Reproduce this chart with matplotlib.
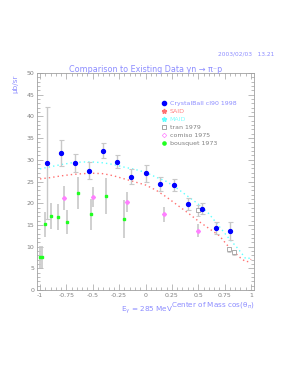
import matplotlib
matplotlib.use("Agg")
import matplotlib.pyplot as plt
from matplotlib.lines import Line2D
from matplotlib.ticker import MultipleLocator

# ---- data ----
cb_x = [-0.933, -0.8, -0.667, -0.533, -0.4, -0.267, -0.133, 0.0, 0.133, 0.267, 0.4, 0.533, 0.667, 0.8]
cb_y = [29.2, 31.5, 29.3, 27.5, 32.1, 29.6, 26.1, 26.9, 24.4, 24.2, 19.8, 18.7, 14.2, 13.6]
cb_err = [12.9, 3.0, 2.1, 1.9, 1.8, 1.6, 1.7, 1.9, 1.6, 1.4, 1.35, 1.25, 1.4, 2.1]

tran_x = [0.5, 0.79, 0.84]
tran_y = [18.4, 9.4, 8.7]
tran_err = [1.3, 0.6, 0.6]

comiso_x = [-0.77, -0.5, -0.175, 0.175, 0.5]
comiso_y = [21.2, 21.4, 20.2, 17.4, 13.7]
comiso_err = [2.8, 2.3, 2.3, 1.65, 1.55]

bous_x = [-0.995, -0.977, -0.949, -0.90, -0.826, -0.74, -0.643, -0.517, -0.377, -0.207]
bous_y = [7.6, 7.6, 15.1, 17.0, 16.9, 15.7, 22.3, 17.4, 21.6, 16.3]
bous_err = [2.5, 2.5, 2.9, 3.0, 3.0, 2.7, 3.7, 3.5, 4.2, 4.4]

curve_x = [-1.0, -0.9, -0.8, -0.7, -0.6, -0.5, -0.4, -0.3, -0.2, -0.1, 0.0, 0.1, 0.2,
           0.3, 0.4, 0.5, 0.6, 0.7, 0.8, 0.86, 0.9, 0.95, 0.98, 1.0]
said_y = [25.6, 25.9, 26.3, 26.6, 26.8, 26.9, 26.8, 26.3, 25.6, 24.9, 24.2, 23.0, 21.4,
          19.6, 17.8, 15.9, 14.2, 12.5, 9.6, 8.3, 7.4, 6.5, 6.6, 7.1]
maid_y = [27.9, 28.4, 28.9, 29.3, 29.5, 29.5, 29.3, 28.9, 28.3, 27.8, 27.1, 26.0, 25.0,
          23.4, 21.6, 19.8, 17.6, 14.6, 11.6, 10.0, 8.8, 7.2, 7.3, 7.8]

legend_labels = ["CrystalBall cl90 1998", "SAID", "MAID", "tran 1979", "comiso 1975", "bousquet 1973"]
xticks = [-1, -0.75, -0.5, -0.25, 0, 0.25, 0.5, 0.75, 1]
xticklabels = ["-1", "-0.75", "-0.5", "-0.25", "0", "0.25", "0.5", "0.75", "1"]
yticks = [0, 5, 10, 15, 20, 25, 30, 35, 40, 45, 50]

# ---- style ----
lav = "#8c8cff"
grey = "#a0a0a0"
ebc = "#c8c8c8"

fig = plt.figure(figsize=(3.0, 3.88), dpi=100)
ax = fig.add_axes([37/300, 98/388, 217/300, 217/388])

ax.plot(curve_x, said_y, color="#ff7070", linestyle=(0, (1, 2.2)), linewidth=1.0, zorder=2)
ax.plot(curve_x, maid_y, color="#60ffff", linestyle=(0, (1, 2.2)), linewidth=1.0, zorder=2)

ax.errorbar(bous_x, bous_y, yerr=bous_err, fmt="s", color="#20ff20", markersize=1.9,
            ecolor=ebc, elinewidth=1.2, capsize=0, zorder=3)
ax.errorbar(comiso_x, comiso_y, yerr=comiso_err, fmt="D", color="#ff80ff", markersize=2.0,
            ecolor=ebc, elinewidth=1.2, capsize=0, zorder=3)
ax.errorbar(tran_x, tran_y, yerr=tran_err, fmt="s", mfc="white", mec="#a0a0a0", markersize=2.5,
            mew=0.6, ecolor=ebc, elinewidth=1.0, capsize=1.5, zorder=3)
ax.errorbar(cb_x, cb_y, yerr=cb_err, fmt="o", color="#0000ff", markersize=2.8,
            ecolor=ebc, elinewidth=1.0, capsize=1.8, capthick=0.8, zorder=4)

ax.set_xlim(-1.028, 1.028)
ax.set_ylim(0, 50)
ax.set_xticks(xticks)
ax.set_xticklabels(xticklabels)
ax.set_yticks(yticks)
ax.xaxis.set_minor_locator(MultipleLocator(0.05))
ax.yaxis.set_minor_locator(MultipleLocator(1))
ax.tick_params(which="both", direction="in", top=True, right=True, colors=grey,
               labelsize=4.5, labelcolor="#808080", width=0.5)
ax.tick_params(which="major", length=4, pad=2)
ax.tick_params(which="minor", length=2)
for s in ax.spines.values():
    s.set_color(grey)
    s.set_linewidth(0.6)

handles = [
    Line2D([], [], marker="o", color="#0000ff", linestyle="none", markersize=3.0),
    Line2D([], [], marker="*", color="#ff7070", linestyle="none", markersize=3.5),
    Line2D([], [], marker="*", color="#60ffff", linestyle="none", markersize=3.5),
    Line2D([], [], marker="s", mfc="white", mec="#808080", linestyle="none", markersize=2.8, mew=0.5),
    Line2D([], [], marker="D", mfc="white", mec="#ff80ff", linestyle="none", markersize=2.3, mew=0.5),
    Line2D([], [], marker="o", color="#20ff20", linestyle="none", markersize=2.3),
]
leg = ax.legend(handles, legend_labels, loc="upper left", bbox_to_anchor=(0.571, 0.872),
                frameon=False, fontsize=4.5, handlelength=1.0, handletextpad=0.4,
                labelspacing=0.42, borderpad=0, borderaxespad=0,
                labelcolor=[lav, "#ff8080", "#80ffff", "#808080", "#808080", "#808080"])

fig.text(145.5/300, 1 - 70/388, "Comparison to Existing Data \u03b3n \u2192 \u03c0\u207bp",
         ha="center", va="center", fontsize=5.8, color=lav)
fig.text(274/300, 1 - 54/388, "2003/02/03   13.21", ha="right", va="center",
         fontsize=4.2, color=lav)
fig.text(15/300, 1 - 84/388, "\u03bcb/sr", rotation=90, ha="center", va="center",
         fontsize=5.2, color=lav)
fig.text(255/300, 1 - 305/388, "Center of Mass cos(\u03b8$_{\\pi}$)", ha="right", va="center",
         fontsize=5.2, color=lav)
fig.text(121/300, 1 - 310/388, "E$_{\\gamma}$ = 285 MeV", ha="left", va="center",
         fontsize=5.2, color=lav)

fig.savefig("out.png", dpi=100)
